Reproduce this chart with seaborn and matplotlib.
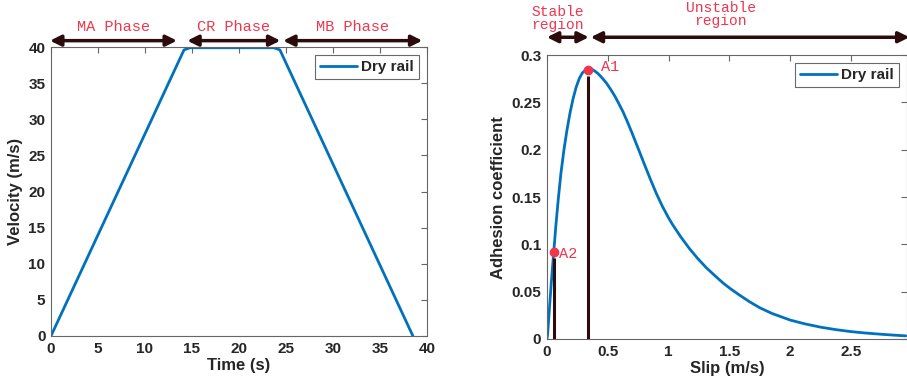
import matplotlib
matplotlib.use("Agg")
import matplotlib.pyplot as plt
import matplotlib.transforms as mtransforms
import seaborn as sns
import pandas as pd

# velocity profile (left panel)
time_s = [0, 14.15, 14.8, 23.7, 24.35, 38.5]
velocity = [0, 39.6, 39.9, 39.9, 39.6, 0]
phase_names = ["MA Phase", "CR Phase", "MB Phase"]
phase_spans = [(-0.1, 13.4), (14.5, 24.4), (24.7, 39.5)]

# adhesion curve (right panel)
slip = [0, 0.005, 0.02, 0.035, 0.056, 0.075, 0.095, 0.115, 0.14, 0.165, 0.19, 0.215,
        0.24, 0.265, 0.29, 0.315, 0.34, 0.365, 0.39, 0.42, 0.45, 0.489, 0.523,
        0.557, 0.59, 0.626, 0.66, 0.694, 0.728, 0.762, 0.80, 0.85, 0.899, 0.95,
        1.0, 1.035, 1.10, 1.172, 1.24, 1.309, 1.38, 1.445, 1.51, 1.582, 1.664,
        1.75, 1.85, 2.0, 2.12, 2.25, 2.38, 2.5, 2.62, 2.75, 2.85, 2.95]
adhesion = [0, 0.004, 0.031, 0.058, 0.092, 0.122, 0.150, 0.175, 0.200, 0.221, 0.239, 0.254,
            0.266, 0.275, 0.281, 0.284, 0.2855, 0.2855, 0.2835, 0.2805, 0.2765, 0.2705, 0.264,
            0.257, 0.249, 0.240, 0.230, 0.2195, 0.2085, 0.1975, 0.185, 0.169, 0.154, 0.140,
            0.128, 0.1205, 0.108, 0.0955, 0.085, 0.0755, 0.067, 0.0595, 0.053, 0.0465, 0.0395,
            0.033, 0.027, 0.020, 0.016, 0.0125, 0.0098, 0.0078, 0.0063, 0.005, 0.0041, 0.0033]
point_names = ["A1", "A2"]
point_slip = [0.335, 0.056]
point_adh = [0.284, 0.092]
region_names = ["Stable\nregion", "Unstable\nregion"]
region_spans = [(0, 0.344), (0.36, 2.98)]

sns.set_theme(style="white")
plt.rcParams["font.family"] = ["Liberation Sans", "DejaVu Sans"]
plt.rcParams["font.weight"] = "bold"

line_col = "#0072BD"
dark = "#2b0b0b"
red = "#f0354d"
mono = ["Liberation Mono", "DejaVu Sans Mono"]

fig = plt.figure(figsize=(9.07, 3.8), dpi=100)
ax1 = fig.add_axes([0.0562, 0.1158, 0.4146, 0.7605])
ax2 = fig.add_axes([0.603, 0.1079, 0.397, 0.747])

vel_df = pd.DataFrame({"t": time_s, "v": velocity})
sns.lineplot(data=vel_df, x="t", y="v", ax=ax1, color=line_col, lw=2, label="Dry rail")
ax1.set_xlim(0, 40)
ax1.set_ylim(0, 40)
ax1.set_xticks(range(0, 41, 5))
ax1.set_yticks(range(0, 41, 5))
ax1.set_xlabel("Time (s)", fontsize=12, fontweight="bold", labelpad=2)
ax1.set_ylabel("Velocity (m/s)", fontsize=12, fontweight="bold", labelpad=4)

adh_df = pd.DataFrame({"s": slip, "mu": adhesion})
sns.lineplot(data=adh_df, x="s", y="mu", ax=ax2, color=line_col, lw=2, label="Dry rail")
for s, m in zip(point_slip, point_adh):
    ax2.vlines(s, 0, m - 0.006, color=dark, lw=2.2, zorder=3)
ax2.plot(point_slip, point_adh, "o", color=red, ms=6, zorder=4)
ax2.text(point_slip[0] + 0.11, point_adh[0] + 0.003, point_names[0], color=red,
         family=mono, fontsize=11, fontweight="normal", va="center")
ax2.text(point_slip[1] + 0.045, point_adh[1] - 0.002, point_names[1], color=red,
         family=mono, fontsize=11, fontweight="normal", va="center")
ax2.set_xlim(0, 2.96)
ax2.set_ylim(0, 0.3)
ax2.set_xticks([0, 0.5, 1, 1.5, 2, 2.5])
ax2.set_xticklabels(["0", "0.5", "1", "1.5", "2", "2.5"])
ax2.set_yticks([0, 0.05, 0.1, 0.15, 0.2, 0.25, 0.3])
ax2.set_yticklabels(["0", "0.05", "0.1", "0.15", "0.2", "0.25", "0.3"])
ax2.set_xlabel("Slip (m/s)", fontsize=12, fontweight="bold", labelpad=2)
ax2.set_ylabel("Adhesion coefficient", fontsize=12, fontweight="bold", labelpad=4)

for ax in (ax1, ax2):
    for sp in ax.spines.values():
        sp.set_visible(True)
        sp.set_color("#666666")
        sp.set_linewidth(0.8)
    ax.tick_params(direction="in", length=4, width=0.8, color="#666666",
                   top=True, right=True, labelsize=11, pad=4, labelcolor="#262626")
    for lab in ax.get_xticklabels() + ax.get_yticklabels():
        lab.set_fontweight("bold")
    leg = ax.legend(loc="upper right", fontsize=11, frameon=True, fancybox=False,
                    handlelength=2.4, borderaxespad=0.5, borderpad=0.35, handletextpad=0.3)
    leg.get_frame().set_edgecolor("#444444")
    leg.get_frame().set_linewidth(0.8)
    for t in leg.get_texts():
        t.set_fontweight("bold")

arrow_kw = dict(arrowstyle="<|-|>", color=dark, lw=2.5, mutation_scale=16,
                shrinkA=0, shrinkB=0)

trans1 = mtransforms.blended_transform_factory(ax1.transData, ax1.transAxes)
for name, (x0, x1) in zip(phase_names, phase_spans):
    ax1.annotate("", xy=(x1, 1.022), xytext=(x0, 1.022), xycoords=trans1,
                 textcoords=trans1, arrowprops=arrow_kw, annotation_clip=False)
    ax1.text((x0 + x1) / 2, 1.07, name, transform=trans1, ha="center", va="center",
             color=red, family=mono, fontsize=11, fontweight="normal", clip_on=False)

trans2 = mtransforms.blended_transform_factory(ax2.transData, ax2.transAxes)
region_text_x = [0.085, 1.43]
region_text_y = [1.13, 1.143]
for name, (x0, x1), tx, ty in zip(region_names, region_spans, region_text_x, region_text_y):
    ax2.annotate("", xy=(x1, 1.063), xytext=(x0, 1.063), xycoords=trans2,
                 textcoords=trans2, arrowprops=arrow_kw, annotation_clip=False)
    ax2.text(tx, ty, name, transform=trans2, ha="center", va="center", color=red,
             family=mono, fontsize=10.5, fontweight="normal", linespacing=0.95,
             clip_on=False)

fig.savefig("out.png", dpi=100)
